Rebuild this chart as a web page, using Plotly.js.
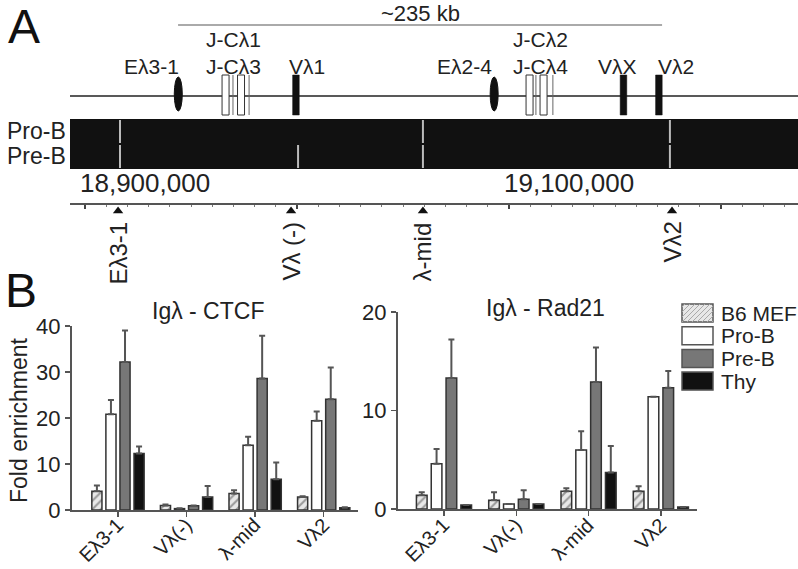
<!DOCTYPE html>
<html>
<head>
<meta charset="utf-8">
<script src="https://cdn.plot.ly/plotly-3.0.1.min.js"></script>
<style>html,body{margin:0;padding:0;background:#fff;}#chart{width:798px;height:569px;}</style>
</head>
<body>
<div id="chart"></div>
<script>
// ---------- Data: panel A (genomic map, chr16 coordinates) ----------
const enhancerNames = ['Eλ3-1', 'Eλ2-4'];
const enhancerPos = [18944000, 19093000];
const jcUpperNames = ['J-Cλ1', 'J-Cλ2'];
const jcLowerNames = ['J-Cλ3', 'J-Cλ4'];
const jcBoxPos = [18966300, 18973600, 19109700, 19116300];
const jcLinePos = [18969800, 18977400, 19112700, 19120700];
const vNames = ['Vλ1', 'VλX', 'Vλ2'];
const vPos = [18999500, 19154000, 19170700];
const proBPeaks = [18916500, 19059400, 19175900];
const preBPeaks = [18916500, 19000500, 19059400, 19175900];
const probeNames = ['Eλ3-1', 'Vλ (-)', 'λ-mid', 'Vλ2'];
const probePos = [18915600, 18997200, 19059400, 19176900];
const spanStart = 18943900, spanEnd = 19172200, spanLabel = '~235 kb';
const coordLabels = [18900000, 19100000];

// ---------- Data: panel B (ChIP fold enrichment) ----------
const categories = ['Eλ3-1', 'Vλ(-)', 'λ-mid', 'Vλ2'];
const seriesNames = ['B6 MEF', 'Pro-B', 'Pre-B', 'Thy'];
const ctcfMEF = [4.1, 1.0, 3.6, 2.8],   ctcfMEFErr = [1.2, 0.2, 0.7, 0.2];
const ctcfProB = [20.8, 0.3, 14.1, 19.4], ctcfProBErr = [3.1, 0.1, 1.8, 2.0];
const ctcfPreB = [32.2, 0.9, 28.6, 24.1], ctcfPreBErr = [6.8, 0.1, 9.3, 6.9];
const ctcfThy = [12.3, 2.8, 6.7, 0.5],  ctcfThyErr = [1.5, 2.4, 3.6, 0.1];
const rad21MEF = [1.4, 0.9, 1.8, 1.8],  rad21MEFErr = [0.3, 0.8, 0.3, 0.5];
const rad21ProB = [4.6, 0.5, 6.0, 11.4], rad21ProBErr = [1.5, 0, 1.9, 0];
const rad21PreB = [13.3, 1.0, 12.9, 12.3], rad21PreBErr = [3.9, 0.9, 3.5, 1.7];
const rad21Thy = [0.4, 0.5, 3.7, 0.2],  rad21ThyErr = [0, 0, 2.7, 0];

// ---------- Styles / layout constants ----------
const FONT = 'Liberation Sans, Arial, sans-serif';
const TXT = '#222';
const W = 798, H = 569;
const gRange = [18892925, 19236320];
const gDomPx = [70, 798];
const bpPerPx = (gRange[1] - gRange[0]) / (gDomPx[1] - gDomPx[0]);
const px = p => p * bpPerPx;
const row = { line: 96, elTop: 75, elBot: 115, ellTop: 77, ellBot: 111, trTop: 119, trMid: 144, trBot: 169,
  lab1: 39, lab2: 66, span: 25, spanLab: 13, coordLab: 183, ruler: 204, tri: 211, probeLab: 220 };

const seriesStyle = [
  { color: '#e8e8e8', pattern: { shape: '/', fgcolor: '#9a9a9a', bgcolor: '#e8e8e8', size: 6, solidity: 0.35 } },
  { color: '#ffffff' },
  { color: '#777777' },
  { color: '#111111' }
];

const ctcf = [[ctcfMEF, ctcfMEFErr], [ctcfProB, ctcfProBErr], [ctcfPreB, ctcfPreBErr], [ctcfThy, ctcfThyErr]];
const rad21 = [[rad21MEF, rad21MEFErr], [rad21ProB, rad21ProBErr], [rad21PreB, rad21PreBErr], [rad21Thy, rad21ThyErr]];

const traces = [];
function addBars(set, xa, ya) {
  set.forEach((s, i) => {
    const m = { color: seriesStyle[i].color, line: { color: '#333', width: 1.5 } };
    if (seriesStyle[i].pattern) m.pattern = seriesStyle[i].pattern;
    traces.push({
      type: 'bar', x: categories, y: s[0], name: seriesNames[i], xaxis: xa, yaxis: ya,
      marker: m, showlegend: false,
      error_y: { type: 'data', symmetric: false, array: s[1], arrayminus: s[1].map(() => 0),
        color: '#555', thickness: 2, width: 3 },
      hoverinfo: 'x+y+name'
    });
  });
}
addBars(ctcf, 'x', 'y');
addBars(rad21, 'x2', 'y2');

// probe triangles on the genome ruler
traces.push({
  type: 'scatter', mode: 'markers', x: probePos, y: probePos.map(() => row.tri),
  xaxis: 'x3', yaxis: 'y3', showlegend: false,
  marker: { symbol: 'triangle-up', size: 9, color: '#111' }, hoverinfo: 'x'
});

const shapes = [];
const ref = { xref: 'x3', yref: 'y3' };
shapes.push({ ...ref, type: 'line', x0: gRange[0], x1: gRange[1], y0: row.line, y1: row.line, line: { color: '#222', width: 1.5 } });
shapes.push({ ...ref, type: 'line', x0: spanStart, x1: spanEnd, y0: row.span, y1: row.span, line: { color: '#aaa', width: 2 } });
enhancerPos.forEach(p => shapes.push({ ...ref, type: 'circle', x0: p - px(4), x1: p + px(4), y0: row.ellTop, y1: row.ellBot,
  fillcolor: '#111', line: { color: '#111', width: 1 } }));
jcLinePos.forEach(p => shapes.push({ ...ref, type: 'line', x0: p, x1: p, y0: row.elTop, y1: row.elBot, line: { color: '#666', width: 1 } }));
jcBoxPos.forEach(p => shapes.push({ ...ref, type: 'rect', x0: p - px(3.5), x1: p + px(3.5), y0: row.elTop, y1: row.elBot,
  fillcolor: '#fff', line: { color: '#333', width: 1 } }));
vPos.forEach(p => shapes.push({ ...ref, type: 'rect', x0: p - px(3.3), x1: p + px(3.3), y0: row.elTop, y1: row.elBot,
  fillcolor: '#111', line: { color: '#111', width: 0.5 } }));
shapes.push({ ...ref, type: 'rect', x0: gRange[0], x1: gRange[1], y0: row.trTop, y1: row.trBot, fillcolor: '#111', line: { width: 0 } });
proBPeaks.forEach(p => shapes.push({ ...ref, type: 'line', x0: p, x1: p, y0: row.trTop + 1, y1: row.trMid - 1, line: { color: '#bbb', width: 2 } }));
preBPeaks.forEach(p => shapes.push({ ...ref, type: 'line', x0: p, x1: p, y0: row.trMid + 1, y1: row.trBot - 1, line: { color: '#bbb', width: 2 } }));

const annotations = [];
function gAnn(x, y, text, opts) {
  annotations.push(Object.assign({ xref: 'x3', yref: 'y3', x, y, text, showarrow: false,
    font: { family: FONT, size: 22, color: TXT }, xanchor: 'center', yanchor: 'middle' }, opts || {}));
}
function pAnn(xp, yp, text, opts) {
  annotations.push(Object.assign({ xref: 'paper', yref: 'paper', x: xp / W, y: 1 - yp / H, text, showarrow: false,
    font: { family: FONT, size: 23, color: TXT }, xanchor: 'center', yanchor: 'middle' }, opts || {}));
}
const geneFont = { family: FONT, size: 21, color: TXT };
const enhShift = [-27, -30];
enhancerNames.forEach((n, i) => gAnn(enhancerPos[i], row.lab2, n, { xshift: enhShift[i], font: geneFont }));
const vShift = [11, -6, 17];
vNames.forEach((n, i) => gAnn(vPos[i], row.lab2, n, { xshift: vShift[i], font: geneFont }));
const jcShift = [0, 4];
jcUpperNames.forEach((n, i) => {
  const c = (jcBoxPos[2 * i] + jcBoxPos[2 * i + 1]) / 2;
  gAnn(c, row.lab1, n, { xshift: jcShift[i], font: geneFont });
  gAnn(c, row.lab2, jcLowerNames[i], { xshift: jcShift[i], font: geneFont });
});
gAnn((spanStart + spanEnd) / 2, row.spanLab, spanLabel);
coordLabels.forEach(c => gAnn(c, row.coordLab, c.toLocaleString('en-US'), { xanchor: 'left', xshift: -7, font: { family: FONT, size: 26, color: TXT } }));
probeNames.forEach((n, i) => gAnn(probePos[i], row.probeLab, n, { textangle: -90, yanchor: 'top', font: { family: FONT, size: 24, color: TXT } }));
pAnn(68, 131, 'Pro-B', { xanchor: 'right' });
pAnn(68, 156, 'Pre-B', { xanchor: 'right' });
pAnn(24, 27, 'A', { font: { family: FONT, size: 48, color: '#111' } });
pAnn(21, 290, 'B', { font: { family: FONT, size: 48, color: '#111' } });
pAnn(208, 311, 'Igλ - CTCF');
pAnn(545, 308, 'Igλ - Rad21');
pAnn(19, 420, 'Fold enrichment', { textangle: -90 });

// rotated category labels under each bar chart
['x', 'x2'].forEach(xa => categories.forEach(c => annotations.push({
  xref: xa, yref: 'paper', x: c, y: 1 - 511 / H, text: c, textangle: -45, showarrow: false,
  xanchor: 'right', yanchor: 'top', xshift: 12, font: { family: FONT, size: 20, color: TXT }
})));

// custom legend (large swatches, as in the reference)
const leg = { x0: 682, x1: 713, top: 304, h: 18, pitch: 22.7, textX: 719 };
seriesNames.forEach((n, i) => {
  const y0 = leg.top + i * leg.pitch, y1 = y0 + leg.h;
  shapes.push({ type: 'rect', xref: 'paper', yref: 'paper', x0: leg.x0 / W, x1: leg.x1 / W, y0: 1 - y1 / H, y1: 1 - y0 / H,
    fillcolor: seriesStyle[i].color, line: { color: '#555', width: 1.5 } });
  if (seriesStyle[i].pattern) {
    for (let s = leg.x0 + y0 + 3; s < leg.x1 + y1; s += 5) {
      const xa = Math.max(leg.x0, s - y1), xb = Math.min(leg.x1, s - y0);
      if (xb - xa < 1) continue;
      shapes.push({ type: 'line', xref: 'paper', yref: 'paper', x0: xa / W, y0: 1 - (s - xa) / H, x1: xb / W, y1: 1 - (s - xb) / H,
        line: { color: '#aaa', width: 1 } });
    }
  }
  pAnn(leg.textX, (y0 + y1) / 2, n, { xanchor: 'left', font: { family: FONT, size: 21, color: TXT } });
});

const axFont = { family: FONT, size: 22, color: TXT };
const xBar = (dom, anchor) => ({ domain: dom, anchor, type: 'category', showline: true, linecolor: '#555', linewidth: 2,
  ticks: 'outside', ticklen: 5, tickcolor: '#555', tickwidth: 1.5, showticklabels: false,
  showgrid: false, zeroline: false, fixedrange: true, automargin: false });
const yBar = (dom, anchor, range) => ({ domain: dom, anchor, range, dtick: 10, showline: true, linecolor: '#555', linewidth: 2,
  ticks: 'outside', ticklen: 5, tickcolor: '#555', tickwidth: 1.5, tickfont: axFont,
  showgrid: false, zeroline: false, fixedrange: true, automargin: false });

const layout = {
  width: W, height: H,
  margin: { l: 0, r: 0, t: 0, b: 0 },
  paper_bgcolor: '#fff', plot_bgcolor: 'rgba(0,0,0,0)',
  font: { family: FONT, color: TXT },
  barmode: 'group', bargap: 0.18, bargroupgap: 0.28,
  showlegend: false,
  xaxis: xBar([72 / W, 358 / W], 'y'),
  yaxis: yBar([1 - 510 / H, 1 - 326 / H], 'x', [0, 40]),
  xaxis2: xBar([398 / W, 697 / W], 'y2'),
  yaxis2: yBar([1 - 509 / H, 1 - 312 / H], 'x2', [0, 20]),
  xaxis3: { domain: [gDomPx[0] / W, gDomPx[1] / W], range: gRange, anchor: 'free', position: 1 - row.ruler / H,
    showline: true, linecolor: '#555', linewidth: 2, ticks: 'outside', ticklen: 4, tickcolor: '#444', tickwidth: 1.5,
    tick0: 18900000, dtick: 100000, minor: { dtick: 10000, ticks: 'outside', ticklen: 2, tickcolor: '#777', tickwidth: 1 },
    showticklabels: false, showgrid: false, zeroline: false, fixedrange: true },
  yaxis3: { domain: [0, 1], range: [H, 0], anchor: 'x3', visible: false, fixedrange: true },
  shapes, annotations
};

Plotly.newPlot('chart', traces, layout, { displayModeBar: false, staticPlot: true });
</script>
</body>
</html>
